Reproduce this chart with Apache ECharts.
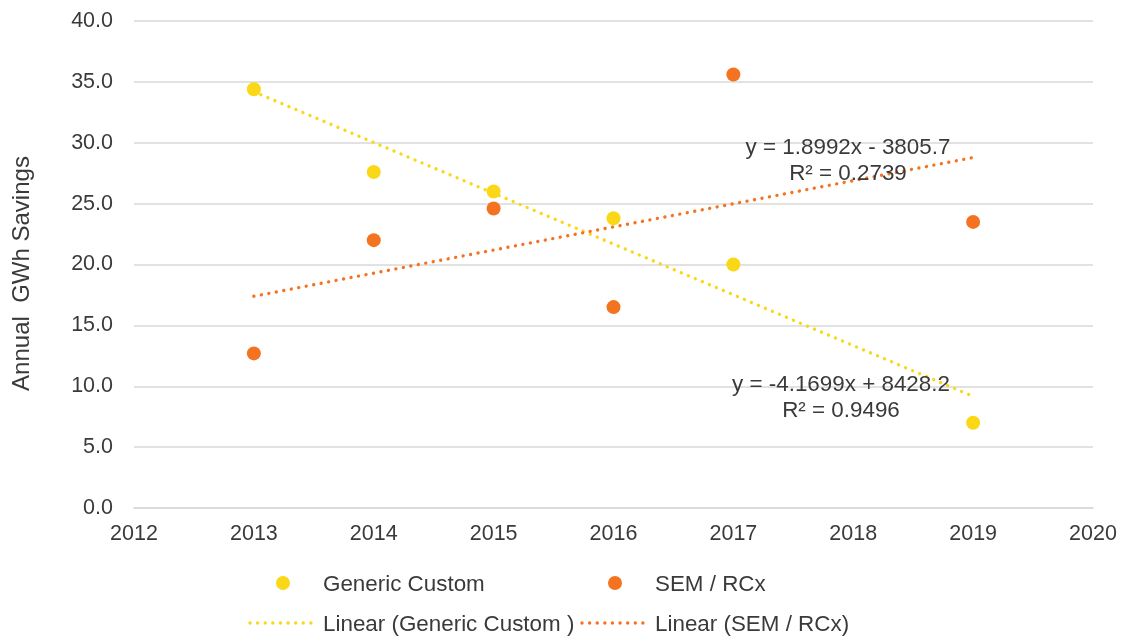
<!DOCTYPE html>
<html>
<head>
<meta charset="utf-8">
<script src="https://cdn.jsdelivr.net/npm/echarts@6/dist/echarts.min.js"></script>
<style>
  html, body { margin: 0; padding: 0; background: #ffffff; }
  #chart { width: 1124px; height: 638px; }
</style>
</head>
<body>
<div id="chart"></div>
<script>
// Program years and annual savings (GWh)
const years = [2013, 2014, 2015, 2016, 2017, 2019];
const genericCustom = [34.4, 27.6, 26.0, 23.8, 20.0, 7.0];
const semRcx = [12.7, 22.0, 24.6, 16.5, 35.6, 23.5];

// Linear trend coefficients [slope, intercept] and fit quality
const genericTrend = [-4.1699, 8428.2];
const semTrend = [1.8992, -3805.7];
const genericR2 = '0.9496';
const semR2 = '0.2739';

const seriesNames = ['Generic Custom', 'SEM / RCx'];
const trendNames = ['Linear (Generic Custom )', 'Linear (SEM / RCx)'];

const xTicks = { min: 2012, max: 2020, step: 1 };
const yTicks = { min: 0, max: 40, step: 5 };

const YELLOW = '#FAD817';
const ORANGE = '#F47321';
const TEXT = '#3a3a3a';
const GRID = '#d9d9d9';
const FONT = '"Liberation Sans", Arial, sans-serif';
const DOT_DASH = [0.01, 7.6];

const pairs = (xs, ys) => xs.map((x, i) => [x, ys[i]]);
const trendPoints = (c) => {
  const x0 = years[0], x1 = years[years.length - 1];
  return [[x0, c[0] * x0 + c[1]], [x1, c[0] * x1 + c[1]]];
};
const fmtEq = (c) => {
  const s = 'y = ' + c[0].toFixed(4) + 'x ';
  return s + (c[1] < 0 ? '- ' + Math.abs(c[1]).toFixed(1) : '+ ' + c[1].toFixed(1));
};

const chart = echarts.init(document.getElementById('chart'), null, { renderer: 'canvas' });

const dotted = (color) => ({ color: color, width: 3.4, type: DOT_DASH, cap: 'round' });

// Legend drawn as two rows: markers on top, trend lines beneath
const legendCols = [248, 580];
const legendRows = [583, 623];
const legendItems = [];
[YELLOW, ORANGE].forEach((color, i) => {
  const x0 = legendCols[i];
  legendItems.push({
    type: 'circle', silent: true,
    shape: { cx: x0 + 35, cy: legendRows[0], r: 7 },
    style: { fill: color }
  });
  legendItems.push({
    type: 'text', silent: true, x: x0 + 75, y: legendRows[0] + 2,
    style: { text: seriesNames[i], fill: TEXT, font: '22.4px ' + FONT, verticalAlign: 'middle' }
  });
  legendItems.push({
    type: 'line', silent: true,
    shape: { x1: x0 + 2, y1: legendRows[1], x2: x0 + 70, y2: legendRows[1] },
    style: { stroke: color, lineWidth: 3.4, lineDash: DOT_DASH, lineCap: 'round' }
  });
  legendItems.push({
    type: 'text', silent: true, x: x0 + 75, y: legendRows[1] + 2,
    style: { text: trendNames[i], fill: TEXT, font: '22.4px ' + FONT, verticalAlign: 'middle' }
  });
});

chart.setOption({
  animation: false,
  textStyle: { fontFamily: FONT, color: TEXT },
  grid: { left: 134, right: 31, top: 21, bottom: 130, containLabel: false },
  xAxis: {
    type: 'value',
    min: xTicks.min, max: xTicks.max, interval: xTicks.step,
    axisLine: { show: true, lineStyle: { color: GRID, width: 1.5 } },
    axisTick: { show: false },
    splitLine: { show: false },
    axisLabel: { color: TEXT, fontSize: 21.5, fontFamily: FONT, margin: 15, formatter: (v) => String(v) }
  },
  yAxis: {
    type: 'value',
    min: yTicks.min, max: yTicks.max, interval: yTicks.step,
    name: 'Annual  GWh Savings',
    nameLocation: 'middle',
    nameGap: 100,
    nameRotate: 90,
    nameTextStyle: { color: TEXT, fontSize: 24, fontFamily: FONT, padding: [0, 0, 0, -18] },
    axisLine: { show: false },
    axisTick: { show: false },
    splitLine: { show: true, lineStyle: { color: GRID, width: 1.5 } },
    axisLabel: { color: TEXT, fontSize: 21.5, fontFamily: FONT, margin: 21, formatter: (v) => v.toFixed(1) }
  },
  series: [
    {
      name: trendNames[0], type: 'line', data: trendPoints(genericTrend),
      symbol: 'none', lineStyle: dotted(YELLOW), itemStyle: { color: YELLOW }, z: 1,
      silent: true
    },
    {
      name: trendNames[1], type: 'line', data: trendPoints(semTrend),
      symbol: 'none', lineStyle: dotted(ORANGE), itemStyle: { color: ORANGE }, z: 1,
      silent: true
    },
    {
      name: seriesNames[0], type: 'scatter', data: pairs(years, genericCustom),
      symbol: 'circle', symbolSize: 14, itemStyle: { color: YELLOW, opacity: 1 }, z: 3
    },
    {
      name: seriesNames[1], type: 'scatter', data: pairs(years, semRcx),
      symbol: 'circle', symbolSize: 14, itemStyle: { color: ORANGE, opacity: 1 }, z: 3
    }
  ],
  graphic: [
    {
      type: 'text', x: 848, y: 135, z: 10, silent: true,
      style: {
        text: fmtEq(semTrend) + '\nR\u00B2 = ' + semR2,
        fill: TEXT, font: '22.4px ' + FONT, align: 'center', verticalAlign: 'top', lineHeight: 26
      }
    },
    {
      type: 'text', x: 841, y: 372, z: 10, silent: true,
      style: {
        text: fmtEq(genericTrend) + '\nR\u00B2 = ' + genericR2,
        fill: TEXT, font: '22.4px ' + FONT, align: 'center', verticalAlign: 'top', lineHeight: 26
      }
    }
  ].concat(legendItems)
});
</script>
</body>
</html>
